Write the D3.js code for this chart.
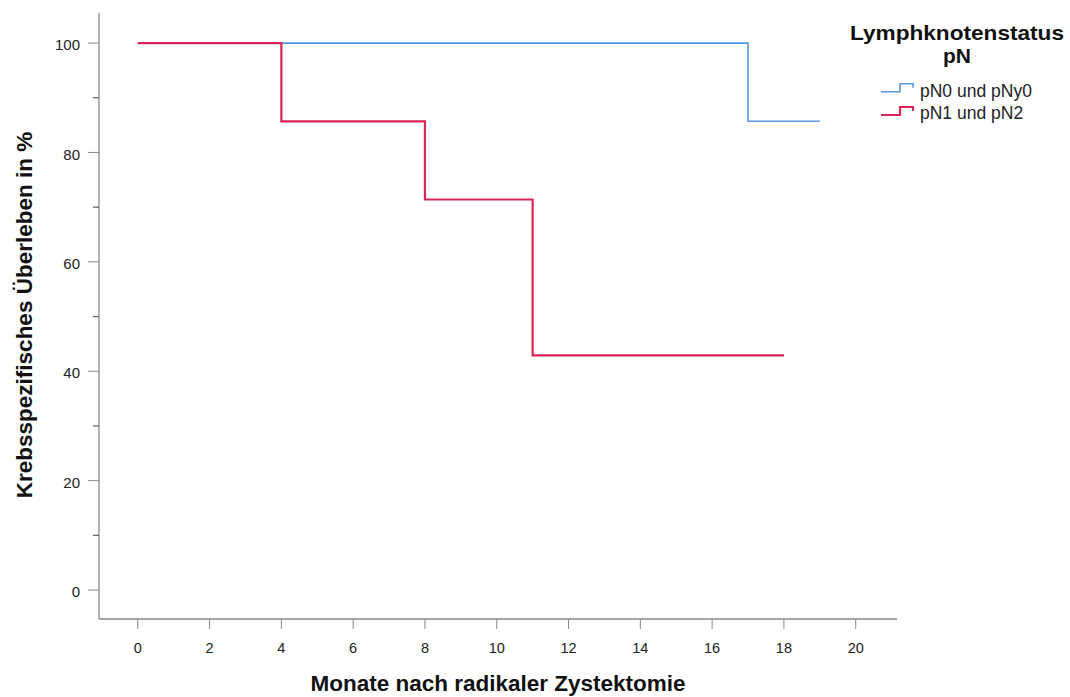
<!DOCTYPE html>
<html>
<head>
<meta charset="utf-8">
<script src="https://cdn.jsdelivr.net/npm/d3@7"></script>
<style>
  body { margin: 0; background: #fff; }
  svg { font-family: "Liberation Sans", Arial, sans-serif; }
</style>
</head>
<body>
<svg id="chart" width="1070" height="697"></svg>
<script>
// Kaplan-Meier steps: [month, survival %]
const pN0Months = [0, 17, 19];
const pN0Values = [100, 85.7, 85.7];
const pN1Months = [0, 4, 8, 11, 18];
const pN1Values = [100, 85.7, 71.4, 42.9, 42.9];

const seriesNames = ["pN0 und pNy0", "pN1 und pN2"];
const seriesColors = ["#5a97e4", "#d92558"];
const xTicks = [0, 2, 4, 6, 8, 10, 12, 14, 16, 18, 20];
const yTicks = [0, 20, 40, 60, 80, 100];
const yMinor = [10, 30, 50, 70, 90];

const svg = d3.select("#chart");

// scales, plot frame 99..897 x 13..619
var x = d3.scaleLinear().domain([-1.08, 21.15]).range([99, 897]);
var y = d3.scaleLinear().domain([-5.3, 105.5]).range([619, 13]);

// y axis
svg.append("line").attr("x1", 99).attr("x2", 99).attr("y1", 13).attr("y2", 619)
  .attr("stroke", "#888").attr("stroke-width", 1.3);
svg.selectAll(".ytick").data(yTicks).enter().append("line")
  .attr("x1", 88).attr("x2", 99).attr("y1", d => y(d)).attr("y2", d => y(d))
  .attr("stroke", "#888");
svg.selectAll(".yminor").data(yMinor).enter().append("line")
  .attr("x1", 93).attr("x2", 99).attr("y1", d => y(d)).attr("y2", d => y(d))
  .attr("stroke", "#666").attr("stroke-width", 1.3);
svg.selectAll(".ylab").data(yTicks).enter().append("text")
  .attr("x", 80).attr("y", d => y(d) + 2).attr("dy", "0.35em")
  .attr("text-anchor", "end").attr("font-size", 15).attr("fill", "#222")
  .text(d => d);

// x axis
svg.append("line").attr("x1", 99).attr("x2", 897).attr("y1", 619).attr("y2", 619)
  .attr("stroke", "#888").attr("stroke-width", 1.3);
svg.selectAll(".xtick").data(xTicks).enter().append("line")
  .attr("x1", d => x(d)).attr("x2", d => x(d)).attr("y1", 619).attr("y2", 629)
  .attr("stroke", "#888");
svg.selectAll(".xlab").data(xTicks).enter().append("text")
  .attr("x", d => x(d)).attr("y", 648).attr("dy", "0.35em")
  .attr("text-anchor", "middle").attr("font-size", 14.5).attr("fill", "#222")
  .text(d => d);

// axis titles
svg.append("text").attr("x", 498).attr("y", 691)
  .attr("text-anchor", "middle").attr("font-size", 22.5).attr("font-weight", "bold")
  .attr("fill", "#111").text("Monate nach radikaler Zystektomie");
svg.append("text").attr("transform", "translate(31.5,315) rotate(-90)")
  .attr("text-anchor", "middle").attr("font-size", 22.5).attr("font-weight", "bold")
  .attr("fill", "#111").text("Krebsspezifisches Überleben in %");

// step lines
var line = d3.line().x(d => x(d[0])).y(d => y(d[1])).curve(d3.curveStepAfter);
const pN0 = pN0Months.map((m, i) => [m, pN0Values[i]]);
const pN1 = pN1Months.map((m, i) => [m, pN1Values[i]]);
svg.append("path").attr("d", line(pN0)).attr("fill", "none")
  .attr("stroke", seriesColors[0]).attr("stroke-width", 1.6);
svg.append("path").attr("d", line(pN1)).attr("fill", "none")
  .attr("stroke", seriesColors[1]).attr("stroke-width", 2.2);

// legend
svg.append("text").attr("x", 957).attr("y", 40)
  .attr("text-anchor", "middle").attr("font-size", 21).attr("font-weight", "bold")
  .attr("textLength", 214).attr("lengthAdjust", "spacingAndGlyphs")
  .attr("fill", "#111").text("Lymphknotenstatus");
svg.append("text").attr("x", 957).attr("y", 63)
  .attr("text-anchor", "middle").attr("font-size", 21).attr("font-weight", "bold")
  .attr("fill", "#111").text("pN");
seriesNames.forEach((name, i) => {
  let ly = 91.7 + i * 23.3;
  svg.append("path")
    .attr("d", `M881,${ly} H900 V${ly - 8} H913 V${ly - 4}`)
    .attr("fill", "none").attr("stroke", seriesColors[i]).attr("stroke-width", i ? 2.2 : 1.6);
  svg.append("text").attr("x", 920).attr("y", 96.7 + i * 22.5)
    .attr("font-size", 17.5).attr("fill", "#222").text(name);
});
</script>
</body>
</html>
